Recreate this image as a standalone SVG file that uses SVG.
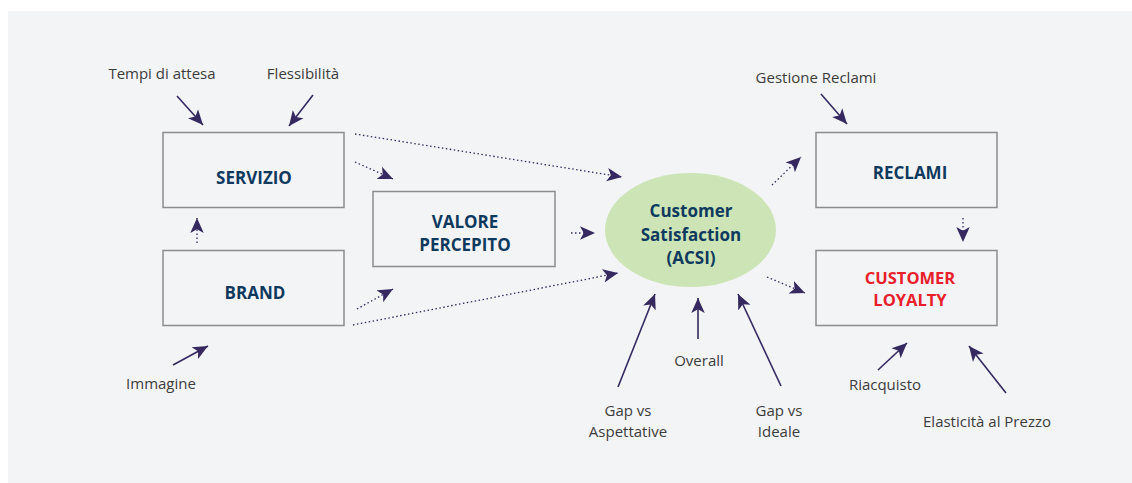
<svg xmlns="http://www.w3.org/2000/svg" width="1132" height="483" viewBox="0 0 1132 483">
<defs>
<marker id="ahs" viewBox="0 0 10 10" refX="10" refY="5" markerWidth="15" markerHeight="15" markerUnits="userSpaceOnUse" orient="auto">
<path d="M0,0.5 L10,5 L0,9.5 L2.5,5 Z" fill="#35295f"/>
</marker>
<style>
.box{fill:#f3f4f6;stroke:#8c8c8c;stroke-width:1.5}
.t{font-family:"Open Sans","Noto Sans","Liberation Sans",sans-serif;font-weight:bold;font-size:17px;fill:#0f3a5e;text-anchor:middle}
.red{fill:#e8202a;font-size:16.5px}
.l{font-family:"Open Sans","Noto Sans","Liberation Sans",sans-serif;font-size:15px;fill:#3c3c3c;text-anchor:middle}
.s{stroke:#35295f;stroke-width:1.6;fill:none;marker-end:url(#ahs)}
.d{stroke:#35295f;stroke-width:1.3;fill:none;stroke-dasharray:1.5 2.5;marker-end:url(#ahs)}
</style>
</defs>
<rect x="0" y="0" width="1132" height="483" fill="#ffffff"/>
<rect x="8" y="11" width="1124" height="472" fill="#f3f4f6"/>

<g id="connectors">
<line class="s" x1="177" y1="96" x2="203" y2="125"/>
<line class="s" x1="313" y1="95" x2="289" y2="126"/>
<line class="s" x1="173" y1="365" x2="208" y2="346"/>
<line class="d" x1="197" y1="243" x2="197" y2="218"/>
<line class="d" x1="355" y1="134" x2="622" y2="177"/>
<line class="d" x1="355" y1="162" x2="393" y2="179"/>
<line class="d" x1="357" y1="309" x2="393" y2="289"/>
<line class="d" x1="353" y1="325" x2="618" y2="273"/>
<line class="d" x1="571" y1="233" x2="595" y2="233"/>
<line class="d" x1="772" y1="185" x2="801" y2="157"/>
<line class="d" x1="767" y1="277" x2="805" y2="293"/>
<line class="d" x1="963" y1="218" x2="963" y2="242"/>
<line class="s" x1="821" y1="94" x2="847" y2="124"/>
<line class="s" x1="878" y1="370" x2="907" y2="343"/>
<line class="s" x1="1006" y1="393" x2="969" y2="346"/>
<line class="s" x1="618" y1="387" x2="655" y2="294"/>
<line class="s" x1="698" y1="339" x2="698" y2="298"/>
<line class="s" x1="781" y1="386" x2="738" y2="294"/>
</g>

<g id="servizio">
<rect class="box" x="163" y="132.5" width="181" height="75"/>
<text class="t" x="254" y="184">SERVIZIO</text>
</g>
<g id="brand">
<rect class="box" x="163" y="250.5" width="181" height="75"/>
<text class="t" x="255" y="299">BRAND</text>
</g>
<g id="valore">
<rect class="box" x="373" y="191.5" width="182" height="75"/>
<text class="t" x="465" y="228">VALORE</text>
<text class="t" x="465" y="251">PERCEPITO</text>
</g>
<g id="csat">
<ellipse cx="690.5" cy="230" rx="85.5" ry="57" fill="#cde5b6"/>
<text class="t" x="691" y="217">Customer</text>
<text class="t" x="691" y="241">Satisfaction</text>
<text class="t" x="691" y="264">(ACSI)</text>
</g>
<g id="reclami">
<rect class="box" x="816" y="132.5" width="181" height="75"/>
<text class="t" x="910" y="179">RECLAMI</text>
</g>
<g id="loyalty">
<rect class="box" x="816" y="250.5" width="181" height="75"/>
<text class="t red" x="910" y="284">CUSTOMER</text>
<text class="t red" x="910" y="306">LOYALTY</text>
</g>

<g id="labels">
<text class="l" x="162" y="79">Tempi di attesa</text>
<text class="l" x="303" y="79">Flessibilità</text>
<text class="l" x="161" y="389">Immagine</text>
<text class="l" x="699" y="366">Overall</text>
<text class="l" x="628" y="416">Gap vs</text>
<text class="l" x="628" y="437">Aspettative</text>
<text class="l" x="779" y="416">Gap vs</text>
<text class="l" x="779" y="437">Ideale</text>
<text class="l" x="816" y="83">Gestione Reclami</text>
<text class="l" x="885" y="390">Riacquisto</text>
<text class="l" x="987" y="427">Elasticità al Prezzo</text>
</g>
</svg>
